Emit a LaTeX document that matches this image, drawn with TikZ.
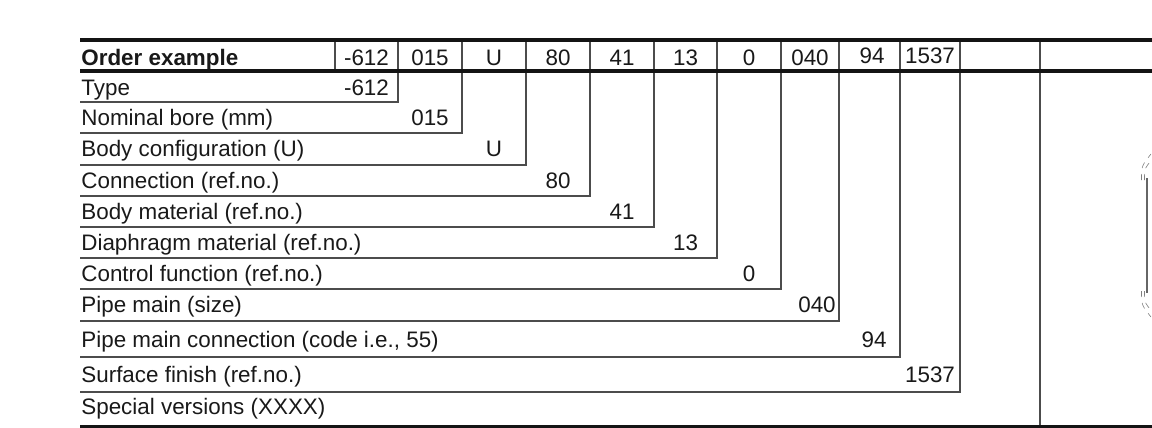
\documentclass[tikz,border=0pt]{standalone}
\usepackage{fontspec}
\setmainfont{Liberation Sans}
\usepackage{tikz}
\usetikzlibrary{positioning}

\begin{document}
\begin{tikzpicture}[
		x=0.5pt, y=-0.5pt,
		tableline/.style={line width=0.65pt, draw=black!70},
		heavyline/.style={line width=2pt, draw=black!92},
		rowlabel/.style={anchor=base west, inner sep=0pt},
		codeval/.style={anchor=base, inner sep=0pt},
		every node/.style={font=\fontsize{11.2}{13}\selectfont, text=black!90}]
		\useasboundingbox (0,0) rectangle (1152,428);

		% header row
		\node[rowlabel, font=\fontsize{11.2}{13}\selectfont\bfseries] (head) at (81,65) {Order example};
		\node[codeval] (htype)  at (366.5,65) {-612};
		\node[codeval] (hbore)  at (430,65)   {015};
		\node[codeval] (hbody)  at (494,65)   {U};
		\node[codeval] (hconn)  at (558,65)   {80};
		\node[codeval] (hmat)   at (622,65)   {41};
		\node[codeval] (hdia)   at (685.5,65) {13};
		\node[codeval] (hctrl)  at (749,65)   {0};
		\node[codeval] (hpipe)  at (810,65)   {040};
		\node[codeval] (hpconn) at (872,63)   {94};
		\node[codeval] (hfin)   at (930,63)   {1537};

		% rows
		\node[rowlabel] (type)  at (81,95)  {Type};
		\node[rowlabel] (bore)  at (81,125) {Nominal bore (mm)};
		\node[rowlabel] (body)  at (81,156) {Body configuration (U)};
		\node[rowlabel] (conn)  at (81,188) {Connection (ref.no.)};
		\node[rowlabel] (mat)   at (81,219) {Body material (ref.no.)};
		\node[rowlabel] (dia)   at (81,250) {Diaphragm material (ref.no.)};
		\node[rowlabel] (ctrl)  at (81,281) {Control function (ref.no.)};
		\node[rowlabel] (pipe)  at (81,312) {Pipe main (size)};
		\node[rowlabel] (pconn) at (81,347) {Pipe main connection (code i.e., 55)};
		\node[rowlabel] (fin)   at (81,382) {Surface finish (ref.no.)};
		\node[rowlabel] (spec)  at (81,414) {Special versions (XXXX)};

		\node[codeval] (vtype)  at (366.5,95) {-612};
		\node[codeval] (vbore)  at (430,125)  {015};
		\node[codeval] (vbody)  at (494,156)  {U};
		\node[codeval] (vconn)  at (558,188)  {80};
		\node[codeval] (vmat)   at (622,219)  {41};
		\node[codeval] (vdia)   at (685.5,250) {13};
		\node[codeval] (vctrl)  at (749,281)  {0};
		\node[codeval] (vpipe)  at (817,312)  {040};
		\node[codeval] (vpconn) at (874,347)  {94};
		\node[codeval] (vfin)   at (930,382)  {1537};

		% table rules
		\draw[tableline] (335,41) -- (335,71);
		\draw[tableline] (80,102) -| (398,41);
		\draw[tableline] (80,133) -| (462,41);
		\draw[tableline] (80,165) -| (526,41);
		\draw[tableline] (80,196) -| (590,41);
		\draw[tableline] (80,227) -| (654,41);
		\draw[tableline] (80,258) -| (717,41);
		\draw[tableline] (80,289) -| (781,41);
		\draw[tableline] (80,321) -| (839,41);
		\draw[tableline] (80,357) -| (900,41);
		\draw[tableline] (80,392) -| (960,41);
		\draw[tableline] (1040,41) -- (1040,426);

		\draw[heavyline] (80,39.5) -- (1152,39.5);
		\draw[heavyline] (80,71) -- (1152,71);
		\draw[heavyline] (80,426.5) -- (1152,426.5);

		% cut-off drawing at the right edge
		\draw[black!60, line width=0.8pt] (1147,178) -- (1147,293);
		\draw[black!50, dashed, line width=0.3pt] (1141.5,180) .. controls (1141.5,166) .. (1151,154);
		\draw[black!50, dashed, line width=0.3pt] (1144.5,180) .. controls (1144.5,168) .. (1152,160);
		\draw[black!50, dashed, line width=0.3pt] (1141.5,291) .. controls (1141.5,305) .. (1151,317);
		\draw[black!50, dashed, line width=0.3pt] (1144.5,291) .. controls (1144.5,303) .. (1152,311);
\end{tikzpicture}
\end{document}
